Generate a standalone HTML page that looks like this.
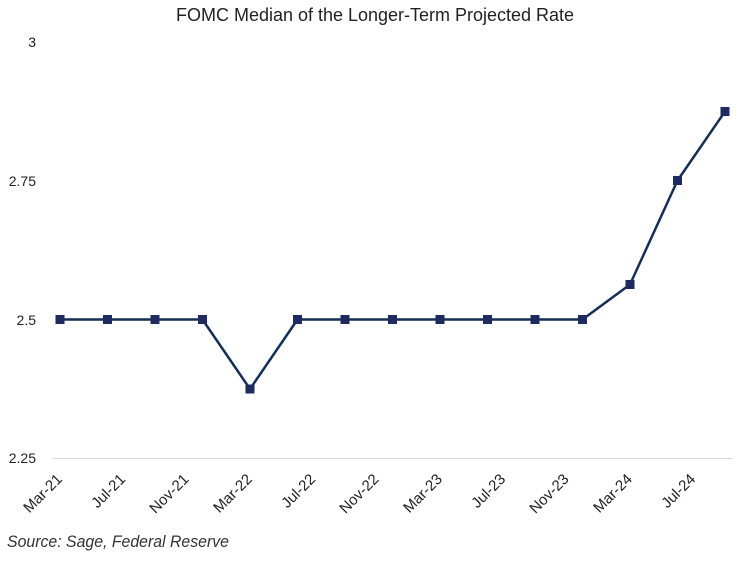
<!DOCTYPE html>
<html><head><meta charset="utf-8"><style>
html,body{margin:0;padding:0;background:#fff;}
svg{display:block;}
</style></head><body>
<svg width="750" height="563" viewBox="0 0 750 563" xmlns="http://www.w3.org/2000/svg" font-family="'Liberation Sans', sans-serif">
<rect width="750" height="563" fill="#fff"/>
<text x="375" y="21" text-anchor="middle" font-size="18" fill="#222" textLength="398" lengthAdjust="spacingAndGlyphs">FOMC Median of the Longer-Term Projected Rate</text>
<g font-size="14" fill="#222" text-anchor="end">
<text x="36" y="47">3</text>
<text x="36" y="186">2.75</text>
<text x="36" y="325">2.5</text>
<text x="36" y="463">2.25</text>
</g>
<line x1="52" y1="458.5" x2="733" y2="458.5" stroke="#d9d9d9" stroke-width="1"/>
<g font-size="15" fill="#222" text-anchor="end">
<text transform="translate(63,480) rotate(-45)">Mar-21</text>
<text transform="translate(126.3,480) rotate(-45)">Jul-21</text>
<text transform="translate(189.7,480) rotate(-45)">Nov-21</text>
<text transform="translate(253,480) rotate(-45)">Mar-22</text>
<text transform="translate(316.3,480) rotate(-45)">Jul-22</text>
<text transform="translate(379.7,480) rotate(-45)">Nov-22</text>
<text transform="translate(443,480) rotate(-45)">Mar-23</text>
<text transform="translate(506.3,480) rotate(-45)">Jul-23</text>
<text transform="translate(569.7,480) rotate(-45)">Nov-23</text>
<text transform="translate(633,480) rotate(-45)">Mar-24</text>
<text transform="translate(696.3,480) rotate(-45)">Jul-24</text>
</g>
<polyline fill="none" stroke="#142f55" stroke-width="2.5" stroke-linejoin="round" points="60,319.5 107.5,319.5 155,319.5 202.5,319.5 250,389 297.5,319.5 345,319.5 392.5,319.5 440,319.5 487.5,319.5 535,319.5 582.5,319.5 630,284.5 677.5,180.5 725,111.5"/>
<g fill="#1f2a5e">
<rect x="55.5" y="315" width="9" height="9"/>
<rect x="103" y="315" width="9" height="9"/>
<rect x="150.5" y="315" width="9" height="9"/>
<rect x="198" y="315" width="9" height="9"/>
<rect x="245.5" y="384.5" width="9" height="9"/>
<rect x="293" y="315" width="9" height="9"/>
<rect x="340.5" y="315" width="9" height="9"/>
<rect x="388" y="315" width="9" height="9"/>
<rect x="435.5" y="315" width="9" height="9"/>
<rect x="483" y="315" width="9" height="9"/>
<rect x="530.5" y="315" width="9" height="9"/>
<rect x="578" y="315" width="9" height="9"/>
<rect x="625.5" y="280" width="9" height="9"/>
<rect x="673" y="176" width="9" height="9"/>
<rect x="720.5" y="107" width="9" height="9"/>
</g>
<text x="7" y="547" font-size="17" font-style="italic" fill="#333" textLength="222" lengthAdjust="spacingAndGlyphs">Source: Sage, Federal Reserve</text>
</svg>
</body></html>
